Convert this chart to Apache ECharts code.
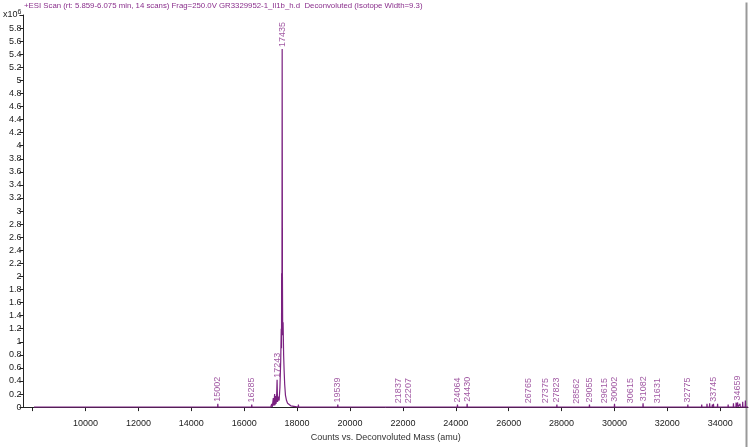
<!DOCTYPE html>
<html>
<head>
<meta charset="utf-8">
<script src="https://cdn.jsdelivr.net/npm/echarts@6/dist/echarts.min.js"></script>
<style>
html, body { margin: 0; padding: 0; background: #fff; }
#chart { width: 750px; height: 447px; }
</style>
</head>
<body>
<div id="chart"></div>
<script>
var titleText = '+ESI Scan (rt: 5.859-6.075 min, 14 scans) Frag=250.0V GR3329952-1_Il1b_h.d  Deconvoluted (Isotope Width=9.3)';
var xTitle = 'Counts vs. Deconvoluted Mass (amu)';

// x axis ticks (mass, amu) and which of them get a label
var xTicks = [8000, 10000, 12000, 14000, 16000, 18000, 20000, 22000, 24000, 26000, 28000, 30000, 32000, 34000];
var xLabels = [10000, 12000, 14000, 16000, 18000, 20000, 22000, 24000, 26000, 28000, 30000, 32000, 34000];

// labelled peaks (counts x10^6)
var peakMass = [15002, 16285, 17243, 17435, 19539, 21837, 22207, 24064, 24430, 26765, 27375,
    27823, 28562, 29055, 29615, 30002, 30615, 31082, 31631, 32775, 33745, 34659];
var peakHeight = [0.05, 0.04, 0.42, 5.48, 0.04, 0.03, 0.03, 0.04, 0.05, 0.03, 0.03,
    0.04, 0.02, 0.04, 0.03, 0.05, 0.03, 0.06, 0.03, 0.04, 0.05, 0.07];

// main envelope around 17435
var clusterMass = [17000, 17040, 17060, 17080, 17100, 17120, 17150, 17165, 17180, 17200, 17220, 17243, 17260,
    17290, 17320, 17350, 17380, 17400, 17410, 17415, 17425, 17435, 17445, 17455, 17470, 17490, 17510,
    17530, 17560, 17600, 17640, 17700, 17760, 17800];
var clusterHeight = [0, 0.05, 0, 0.02, 0.14, 0.02, 0.2, 0.03, 0.17, 0.05, 0.1, 0.42, 0.08,
    0.16, 0.1, 0.3, 0.7, 1.2, 0.9, 2.05, 1.6, 5.48, 2.0, 1.1, 1.3, 0.8, 0.55,
    0.35, 0.18, 0.1, 0.06, 0.03, 0.02, 0];

// small unlabelled spikes along the baseline
var noiseMass = [8600, 9400, 10200, 11100, 12150, 13300, 13950, 14600, 15200, 15500, 16350, 16700,
    18050, 18700, 19000, 19900, 20400, 21000, 21500, 23100, 23400, 24700, 25300, 25800, 26300,
    27000, 28100, 28900, 29300, 29800, 30300, 30800, 31300, 31900, 32300, 32600, 33050, 33300,
    33500, 33600, 33700, 33900, 34100, 34300, 34500, 34600, 34750, 34850, 34950];
var noiseHeight = [0.01, 0.01, 0.01, 0.01, 0.02, 0.03, 0.01, 0.01, 0.02, 0.01, 0.03, 0.01,
    0.04, 0.02, 0.01, 0.01, 0.02, 0.01, 0.01, 0.02, 0.01, 0.02, 0.01, 0.01, 0.02,
    0.01, 0.02, 0.03, 0.02, 0.01, 0.03, 0.02, 0.02, 0.01, 0.02, 0.02, 0.03, 0.04,
    0.05, 0.06, 0.04, 0.05, 0.03, 0.04, 0.06, 0.07, 0.05, 0.08, 0.1];

var purple = '#8a2f8c';
var lineColor = '#7a2180';
var fontName = 'Liberation Sans, Arial, sans-serif';

// build the profile: envelope + a stick for every other spike
var spectrum = [[8050, 0], [35050, 0]];
for (var i = 0; i < clusterMass.length; i++) {
    spectrum.push([clusterMass[i], clusterHeight[i]]);
}
function addStick(m, h) {
    if (m >= 17000 && m <= 17800) return;
    spectrum.push([m - 8, 0], [m, h], [m + 8, 0]);
}
for (var j = 0; j < peakMass.length; j++) addStick(peakMass[j], peakHeight[j]);
for (var k = 0; k < noiseMass.length; k++) addStick(noiseMass[k], noiseHeight[k]);
spectrum.sort(function(a, b) { return a[0] - b[0]; });

var labelPts = [];
for (var p = 0; p < peakMass.length; p++) {
    labelPts.push([peakMass[p], peakHeight[p]]);
}

var myChart = echarts.init(document.getElementById('chart'));
myChart.setOption({
    animation: false,
    backgroundColor: '#fff',
    title: {
        text: titleText,
        left: 24,
        top: 2,
        padding: 0,
        textStyle: {
            color: purple,
            fontWeight: 'normal',
            fontSize: 7.8,
            fontFamily: fontName
        }
    },
    grid: {
        left: 21,
        right: 2,
        top: 15,
        bottom: 34
    },
    xAxis: {
        type: 'value',
        min: 7650,
        max: 35050,
        offset: 2,
        name: xTitle,
        nameLocation: 'middle',
        nameGap: 23,
        nameTextStyle: { color: '#333', fontSize: 9, fontFamily: fontName },
        splitLine: { show: false },
        axisLine: { show: true, lineStyle: { color: '#222', width: 1 } },
        axisTick: { show: true, length: 4, lineStyle: { color: '#222' }, customValues: xTicks },
        axisLabel: {
            color: '#222',
            fontSize: 9,
            fontFamily: fontName,
            margin: 10,
            customValues: xLabels,
            formatter: function(v) { return String(v); }
        }
    },
    yAxis: {
        type: 'value',
        min: 0,
        max: 6,
        interval: 0.2,
        splitLine: { show: false },
        axisLine: { show: true, lineStyle: { color: '#222', width: 1 } },
        axisTick: { show: true, length: 4, lineStyle: { color: '#222' } },
        axisLabel: {
            color: '#222',
            fontSize: 9,
            fontFamily: fontName,
            margin: 2,
            formatter: function(v) {
                if (Math.abs(v - 6) < 1e-6) return '{u|x10}{s|6}';
                return String(Math.round(v * 10) / 10);
            },
            rich: {
                u: { fontSize: 9, fontFamily: fontName, color: '#222' },
                s: { fontSize: 7, fontFamily: fontName, color: '#222', padding: [0, 0, 6, 0] }
            }
        }
    },
    graphic: [{
        type: 'line',
        right: 1,
        top: 0,
        shape: { x1: 0, y1: 0, x2: 0, y2: 447 },
        style: { stroke: '#999', lineWidth: 2 }
    }],
    series: [{
        name: 'spectrum',
        type: 'line',
        data: spectrum,
        showSymbol: false,
        symbol: 'none',
        lineStyle: { color: lineColor, width: 1.2 },
        z: 2
    }, {
        name: 'peaks',
        type: 'scatter',
        data: labelPts,
        symbolSize: 0,
        label: {
            show: true,
            position: 'top',
            distance: 2,
            rotate: 90,
            align: 'left',
            verticalAlign: 'middle',
            color: purple,
            fontSize: 9,
            fontFamily: fontName,
            formatter: function(params) { return String(params.value[0]); }
        },
        z: 3
    }]
});
</script>
</body>
</html>
